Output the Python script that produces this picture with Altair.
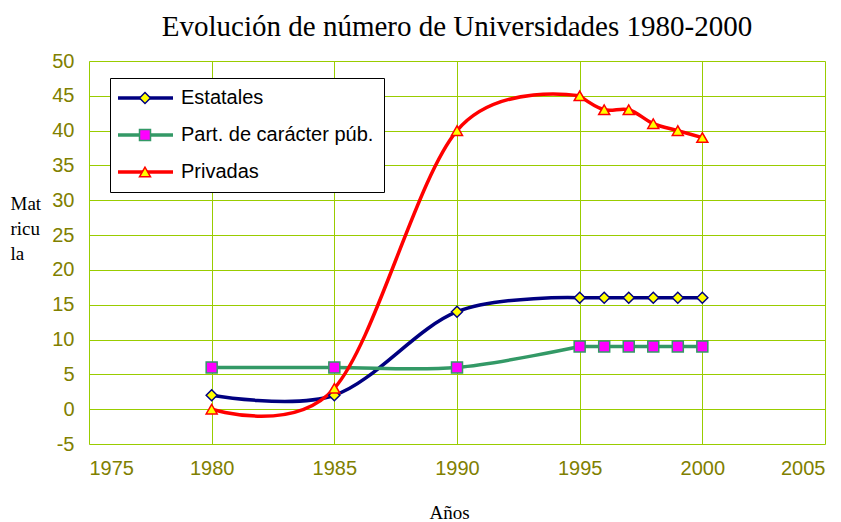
import altair as alt
import pandas as pd

years = [1980, 1985, 1990, 1995, 1996, 1997, 1998, 1999, 2000]
series_names = ["Estatales", "Part. de carácter púb.", "Privadas"]
estatales = [2, 2, 14, 16, 16, 16, 16, 16, 16]
particulares = [6, 6, 6, 9, 9, 9, 9, 9, 9]
privadas = [0, 3, 40, 45, 43, 43, 41, 40, 39]

x_ticks = [1975, 1980, 1985, 1990, 1995, 2000, 2005]
y_ticks = [-5, 0, 5, 10, 15, 20, 25, 30, 35, 40, 45, 50]

line_colors = ["#000080", "#339966", "#ff0000"]
marker_fills = ["#ffff00", "#ff00ff", "#ffff00"]
marker_strokes = ["#000080", "#339966", "#ff0000"]
marker_shapes = ["diamond", "square", "triangle-up"]

rows = []
for name, vals in zip(series_names, [estatales, particulares, privadas]):
    for yr, v in zip(years, vals):
        rows.append({"year": yr, "value": v, "serie": name})
df = pd.DataFrame(rows)

GRID = "#99cc00"
OLIVE = "#808000"

x = alt.X(
    "year:Q",
    scale=alt.Scale(domain=[1975, 2005], nice=False, zero=False),
    axis=alt.Axis(
        values=x_ticks, format="d", title="Años", grid=True, gridColor=GRID,
        gridWidth=1, domain=False, ticks=False, labelFont="Liberation Sans",
        labelFontSize=20, labelColor=OLIVE, labelPadding=14,
        titleFont="Liberation Serif", titleFontSize=19, titleFontWeight="normal",
        titleColor="black", titleX=360, titleY=74, titleBaseline="alphabetic",
        titleAlign="center",
    ),
)
y = alt.Y(
    "value:Q",
    scale=alt.Scale(domain=[-5, 50], nice=False, zero=False),
    axis=alt.Axis(
        values=y_ticks, labelExpr="toString(datum.value)",
        title=["Mat", "ricu", "la"], grid=True, gridColor=GRID,
        gridWidth=1, domain=False, ticks=False, labelFont="Liberation Sans",
        labelFontSize=20, labelColor=OLIVE, labelPadding=15,
        titleFont="Liberation Serif", titleFontSize=19, titleFontWeight="normal",
        titleColor="black", titleAngle=0, titleAlign="left", titleBaseline="top",
        titleX=-79, titleY=133, titleLineHeight=25,
    ),
)

lines_a = (
    alt.Chart(df)
    .transform_filter("datum.year <= 1995")
    .mark_line(interpolate="cardinal", strokeWidth=3.5)
    .encode(
        x=x,
        y=y,
        color=alt.Color(
            "serie:N",
            scale=alt.Scale(domain=series_names, range=line_colors),
            legend=alt.Legend(
                title=None, orient="none", legendX=21, legendY=17,
                symbolType="M-2.4,0L8.6,0", symbolSize=100, symbolStrokeWidth=3.5,
                labelFont="Liberation Sans", labelFontSize=20, labelColor="black",
                labelOffset=41, labelLimit=400, rowPadding=17, padding=10,
                strokeColor="black", fillColor="white", zindex=1,
            ),
        ),
    )
)

lines_b = (
    alt.Chart(df)
    .transform_filter("datum.year >= 1995")
    .mark_line(interpolate="catmull-rom", strokeWidth=3.5)
    .encode(
        x=x,
        y=y,
        color=alt.Color(
            "serie:N", scale=alt.Scale(domain=series_names, range=line_colors), legend=None
        ),
    )
)

points = alt.Chart(df).mark_point(size=121, strokeWidth=1.5, fillOpacity=1, opacity=1).encode(
    x=x,
    y=y,
    shape=alt.Shape("serie:N", scale=alt.Scale(domain=series_names, range=marker_shapes)),
    fill=alt.Fill(
        "serie:N",
        scale=alt.Scale(domain=series_names, range=marker_fills),
        legend=alt.Legend(
            title=None, orient="none", legendX=21, legendY=17,
            symbolSize=121, symbolStrokeWidth=1.5, symbolOffset=15,
            labelFont="Liberation Sans", labelFontSize=20, labelExpr="''",
            labelLimit=400, rowPadding=17, padding=10, zindex=2,
        ),
    ),
    stroke=alt.Stroke("serie:N", scale=alt.Scale(domain=series_names, range=marker_strokes)),
)

chart = (
    alt.layer(lines_a, lines_b, points)
    .resolve_scale(color="independent")
    .properties(
        width=736,
        height=383,
        autosize=alt.AutoSizeParams(type="none"),
        padding={"left": 81, "top": 53, "right": 8, "bottom": 78},
        title=alt.TitleParams(
            "Evolución de número de Universidades 1980-2000",
            font="Liberation Serif", fontSize=29, fontWeight="normal",
            color="black", anchor="middle", offset=9,
        ),
    )
    .configure_view(stroke=GRID, strokeWidth=3)
    .configure(background="white")
)

chart.save("out.html", embed_options={"renderer": "svg", "actions": False})
